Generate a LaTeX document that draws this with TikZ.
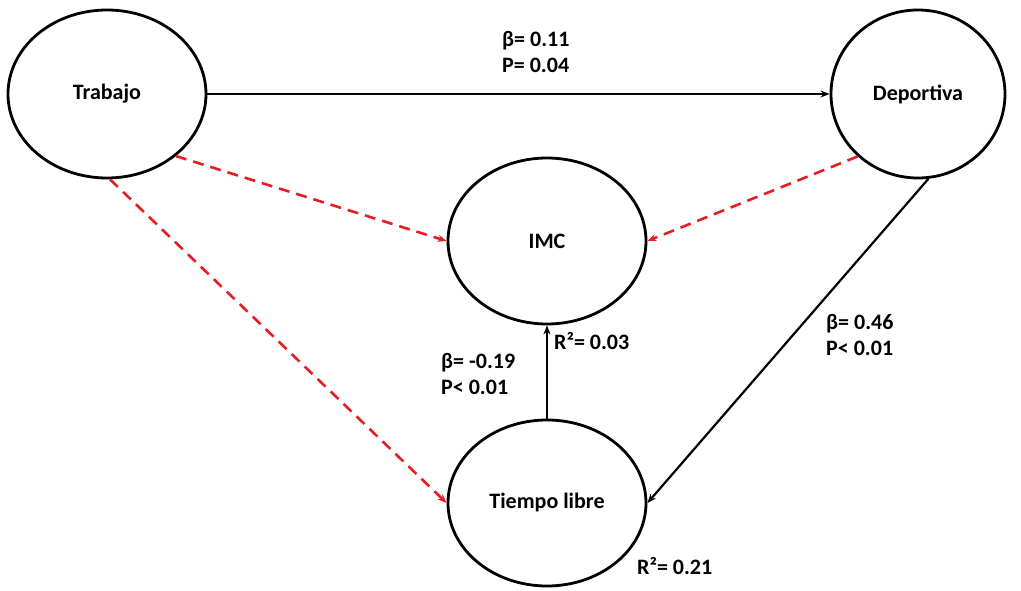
\documentclass[tikz,border=0pt]{standalone}
\usepackage{fontspec}
\setmainfont{Carlito}
\usetikzlibrary{shapes.geometric,arrows.meta}
\definecolor{dashred}{RGB}{228,30,36}
\begin{document}
\begin{tikzpicture}[x=1pt,y=-1pt,
  latent/.style={ellipse,draw,line width=2.8pt,minimum width=198pt,minimum height=168pt,inner sep=0pt,font=\bfseries\fontsize{22}{26}\selectfont},
  path/.style={line width=2.2pt,-{Stealth[length=9pt,width=7pt]}},
  nspath/.style={line width=2.6pt,dashred,dash pattern=on 11pt off 7pt,-{Stealth[length=9pt,width=7pt]}},
  lbl/.style={anchor=west,align=left,inner sep=0pt,font=\bfseries\fontsize{22}{26}\selectfont}]
\useasboundingbox (0,0) rectangle (1021,591);
\node[latent] (trab) at (107,94) {Trabajo};
\node[latent,minimum width=174pt] (dep) at (918,94) {Deportiva};
\node[latent,minimum height=166pt] (imc) at (547,241) {IMC};
\node[latent,minimum height=166pt] (tl) at (547,503) {Tiempo libre};
\draw[path] (trab.east) -- (dep.west);
\draw[nspath] (trab.-42) -- (imc.west);
\draw[nspath] (trab.-88) -- (tl.west);
\draw[nspath] (dep.-134) -- (imc.east);
\draw[path] (dep.-83) -- (tl.east);
\draw[path] (tl.north) -- (imc.south);
\node[lbl] (l1) at (502,52) {β= 0.11\\P= 0.04};
\node[lbl] (l2) at (826,335) {β= 0.46\\P< 0.01};
\node[lbl] (l3) at (441,374) {β= -0.19\\P< 0.01};
\node[lbl] (r1) at (554,341) {R²= 0.03};
\node[lbl] (r2) at (637,566) {R²= 0.21};
\end{tikzpicture}
\end{document}
